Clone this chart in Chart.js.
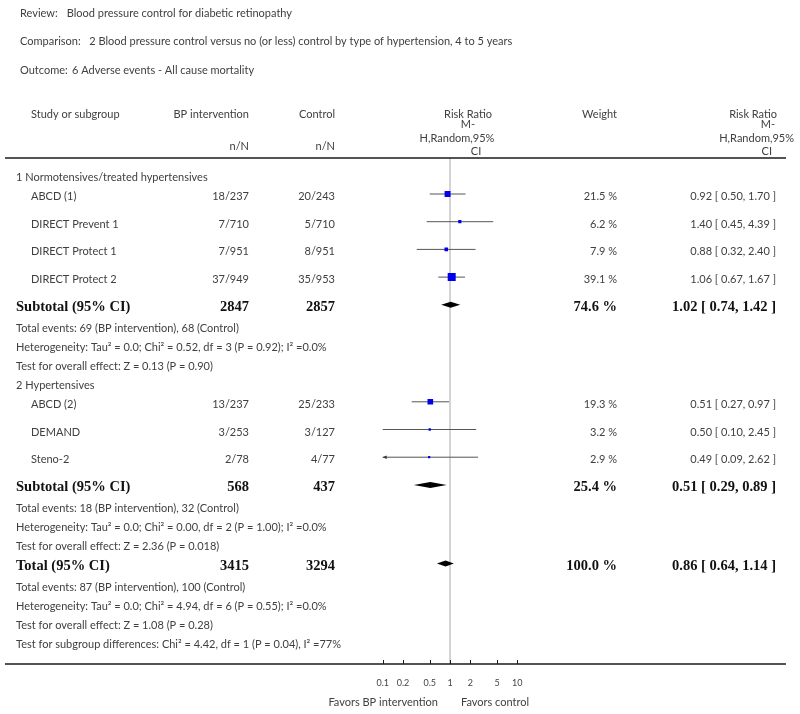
<!DOCTYPE html>
<html>
<head>
<meta charset="utf-8">
<script src="https://cdn.jsdelivr.net/npm/chart.js@4.4.1/dist/chart.umd.min.js"></script>
<style>
  html, body { margin: 0; padding: 0; background: #fff; }
  #wrap { width: 800px; height: 714px; }
</style>
</head>
<body>
<div id="wrap"><canvas id="forest" width="800" height="714"></canvas></div>
<script>
// study level data
const studyNames = ["ABCD (1)", "DIRECT Prevent 1", "DIRECT Protect 1", "DIRECT Protect 2", "ABCD (2)", "DEMAND", "Steno-2"];
const studyGroup = [0, 0, 0, 0, 1, 1, 1];
const interventionNN = ["18/237", "7/710", "7/951", "37/949", "13/237", "3/253", "2/78"];
const controlNN = ["20/243", "5/710", "8/951", "35/953", "25/233", "3/127", "4/77"];
const studyRR = [0.92, 1.40, 0.88, 1.06, 0.51, 0.50, 0.49];
const studyLo = [0.50, 0.45, 0.32, 0.67, 0.27, 0.10, 0.09];
const studyHi = [1.70, 4.39, 2.40, 1.67, 0.97, 2.45, 2.62];
const studyWeight = [21.5, 6.2, 7.9, 39.1, 19.3, 3.2, 2.9];

// subgroups and overall
const groupNames = ["1 Normotensives/treated hypertensives", "2 Hypertensives"];
const pooledLabels = ["Subtotal (95% CI)", "Subtotal (95% CI)", "Total (95% CI)"];
const pooledIntN = [2847, 568, 3415];
const pooledCtrlN = [2857, 437, 3294];
const pooledRR = [1.02, 0.51, 0.86];
const pooledLo = [0.74, 0.29, 0.64];
const pooledHi = [1.42, 0.89, 1.14];
const pooledWeight = [74.6, 25.4, 100.0];
const pooledNotes = [
  ["Total events: 69 (BP intervention), 68 (Control)",
   "Heterogeneity: Tau² = 0.0; Chi² = 0.52, df = 3 (P = 0.92); I² =0.0%",
   "Test for overall effect: Z = 0.13 (P = 0.90)"],
  ["Total events: 18 (BP intervention), 32 (Control)",
   "Heterogeneity: Tau² = 0.0; Chi² = 0.00, df = 2 (P = 1.00); I² =0.0%",
   "Test for overall effect: Z = 2.36 (P = 0.018)"],
  ["Total events: 87 (BP intervention), 100 (Control)",
   "Heterogeneity: Tau² = 0.0; Chi² = 4.94, df = 6 (P = 0.55); I² =0.0%",
   "Test for overall effect: Z = 1.08 (P = 0.28)",
   "Test for subgroup differences: Chi² = 4.42, df = 1 (P = 0.04), I² =77%"]
];

const xTicks = [0.1, 0.2, 0.5, 1, 2, 5, 10];
const headerLines = [
  ["Review:", "Blood pressure control for diabetic retinopathy"],
  ["Comparison:", "2 Blood pressure control versus no (or less) control by type of hypertension, 4 to 5 years"],
  ["Outcome:", "6 Adverse events - All cause mortality"]
];

// build the table rows, y runs down from the header rule
const gaps = {
  "start-group": 17, "group-study": 19, "study-study": 27.7, "study-pooled": 27.7,
  "pooled-note": 21.5, "note-note": 19, "note-group": 18.5, "note-pooled": 19.2
};
const rows = [];
function addRow(kind, extra) {
  const prev = rows.length ? rows[rows.length - 1] : null;
  const y = prev ? prev.y + gaps[prev.kind + "-" + kind] : gaps["start-" + kind];
  rows.push(Object.assign({ kind, y }, extra));
}
groupNames.forEach((g, gi) => {
  addRow("group", { text: g });
  studyNames.forEach((s, i) => { if (studyGroup[i] === gi) addRow("study", { idx: i }); });
  addRow("pooled", { idx: gi });
  pooledNotes[gi].forEach(t => addRow("note", { text: t }));
});
addRow("pooled", { idx: 2 });
pooledNotes[2].forEach(t => addRow("note", { text: t }));

const studyRows = rows.filter(r => r.kind === "study");
const pooledRows = rows.filter(r => r.kind === "pooled");

const SANS = "Lato, 'Open Sans', sans-serif";
const SERIF = "'Liberation Serif', 'DejaVu Serif', serif";
const TXT = "#404040";
const fmt = v => v.toFixed(2);

const forestPlugin = {
  id: "forest",
  beforeDatasetsDraw(chart) {
    const { ctx, chartArea, scales: { x, y } } = chart;
    ctx.save();
    // line of no effect
    const x1 = x.getPixelForValue(1);
    ctx.strokeStyle = "#c6c6c6";
    ctx.lineWidth = 1.5;
    ctx.beginPath();
    ctx.moveTo(x1, chartArea.top);
    ctx.lineTo(x1, chartArea.bottom);
    ctx.stroke();
    // confidence intervals
    ctx.strokeStyle = "#555";
    ctx.lineWidth = 1;
    studyRows.forEach(r => {
      const i = r.idx;
      const py = y.getPixelForValue(r.y);
      const clipped = studyLo[i] < x.min;
      const xl = x.getPixelForValue(Math.max(studyLo[i], x.min));
      const xr = x.getPixelForValue(Math.min(studyHi[i], x.max));
      ctx.beginPath();
      ctx.moveTo(xl, py);
      ctx.lineTo(xr, py);
      ctx.stroke();
      if (clipped) {
        ctx.fillStyle = "#333";
        ctx.beginPath();
        ctx.moveTo(xl, py);
        ctx.lineTo(xl + 4, py - 1.8);
        ctx.lineTo(xl + 4, py + 1.8);
        ctx.closePath();
        ctx.fill();
      }
    });
    // pooled diamonds
    ctx.fillStyle = "#000";
    pooledRows.forEach(r => {
      const i = r.idx;
      const py = y.getPixelForValue(r.y);
      const h = 3;
      ctx.beginPath();
      ctx.moveTo(x.getPixelForValue(pooledLo[i]), py);
      ctx.lineTo(x.getPixelForValue(pooledRR[i]), py - h);
      ctx.lineTo(x.getPixelForValue(pooledHi[i]), py);
      ctx.lineTo(x.getPixelForValue(pooledRR[i]), py + h);
      ctx.closePath();
      ctx.fill();
    });
    ctx.restore();
  },
  afterDraw(chart) {
    const { ctx, chartArea, scales: { x, y } } = chart;
    ctx.save();
    // rules
    ctx.strokeStyle = "#1a1a1a";
    ctx.lineWidth = 1.5;
    [chartArea.top, chartArea.bottom].forEach(py => {
      ctx.beginPath();
      ctx.moveTo(5, py);
      ctx.lineTo(786, py);
      ctx.stroke();
    });
    ctx.lineWidth = 1;
    xTicks.forEach(v => {
      const px = Math.round(x.getPixelForValue(v)) + 0.5;
      ctx.beginPath();
      ctx.moveTo(px, chartArea.bottom);
      ctx.lineTo(px, chartArea.bottom - 4);
      ctx.stroke();
    });

    const text = (s, tx, ty, align, font, color) => {
      ctx.font = font;
      ctx.fillStyle = color || TXT;
      ctx.textAlign = align;
      ctx.textBaseline = "middle";
      ctx.fillText(s, tx, ty);
    };
    const reg = "11px " + SANS;
    const bold = "bold 14.5px " + SERIF;

    // page header
    const hx = [66.7, 89.3, 72];
    headerLines.forEach((l, i) => {
      const ty = 13 + i * 28.5;
      text(l[0], 20, ty, "left", reg);
      text(l[1], hx[i], ty, "left", reg);
    });

    // column headings
    text("Study or subgroup", 31, 114, "left", reg);
    text("BP intervention", 249, 114, "right", reg);
    text("Control", 335, 114, "right", reg);
    text("n/N", 249, 146, "right", reg);
    text("n/N", 335, 146, "right", reg);
    text("Risk Ratio", 468, 114, "center", reg);
    text("M-", 468, 124.5, "center", reg);
    text("H,Random,95%", 457, 138.5, "center", reg);
    text("CI", 476, 151, "center", reg);
    text("Weight", 617, 114, "right", reg);
    text("Risk Ratio", 777, 114, "right", reg);
    text("M-", 775, 124.5, "right", reg);
    text("H,Random,95%", 794, 138.5, "right", reg);
    text("CI", 772, 151, "right", reg);

    // table body
    rows.forEach(r => {
      const py = y.getPixelForValue(r.y) + 2.5;
      if (r.kind === "group" || r.kind === "note") {
        text(r.text, 16, py, "left", reg);
      } else if (r.kind === "study") {
        const i = r.idx;
        text(studyNames[i], 31, py, "left", reg);
        text(interventionNN[i], 249, py, "right", reg);
        text(controlNN[i], 335, py, "right", reg);
        text(studyWeight[i].toFixed(1) + " %", 617, py, "right", reg);
        text(fmt(studyRR[i]) + " [ " + fmt(studyLo[i]) + ", " + fmt(studyHi[i]) + " ]", 776, py, "right", reg);
      } else {
        const i = r.idx;
        text(pooledLabels[i], 16, py, "left", bold, "#111");
        text(String(pooledIntN[i]), 249, py, "right", bold, "#111");
        text(String(pooledCtrlN[i]), 335, py, "right", bold, "#111");
        text(pooledWeight[i].toFixed(1) + " %", 617, py, "right", bold, "#111");
        text(fmt(pooledRR[i]) + " [ " + fmt(pooledLo[i]) + ", " + fmt(pooledHi[i]) + " ]", 776, py, "right", bold, "#111");
      }
    });

    // favours labels
    const x1 = x.getPixelForValue(1);
    text("Favors BP intervention", x1 - 12, 702, "right", reg);
    text("Favors control", x1 + 11, 702, "left", reg);
    ctx.restore();
  }
};

new Chart(document.getElementById("forest"), {
  type: "scatter",
  data: {
    datasets: [{
      data: studyRows.map(r => ({ x: studyRR[r.idx], y: r.y })),
      pointStyle: "rect",
      pointRadius: studyRows.map(r => 1.28 * Math.sqrt(studyWeight[r.idx]) / Math.SQRT2),
      backgroundColor: "#0000ee",
      borderColor: "#0000aa",
      borderWidth: 0
    }]
  },
  options: {
    responsive: false,
    animation: false,
    devicePixelRatio: 1,
    layout: { padding: { left: 382.7, right: 282.7, top: 158, bottom: 20 } },
    plugins: { legend: { display: false }, tooltip: { enabled: false } },
    scales: {
      x: {
        type: "logarithmic",
        min: 0.1,
        max: 10,
        afterBuildTicks: s => { s.ticks = xTicks.map(v => ({ value: v })); },
        afterFit: s => { s.height = 30; },
        grid: { display: false, drawTicks: false },
        border: { display: false },
        ticks: {
          autoSkip: false,
          maxRotation: 0,
          padding: 14,
          color: "#444",
          font: { family: SANS, size: 9 },
          callback: v => String(v)
        }
      },
      y: {
        type: "linear",
        display: false,
        reverse: true,
        min: 0,
        max: 506
      }
    }
  },
  plugins: [forestPlugin]
});
</script>
</body>
</html>
